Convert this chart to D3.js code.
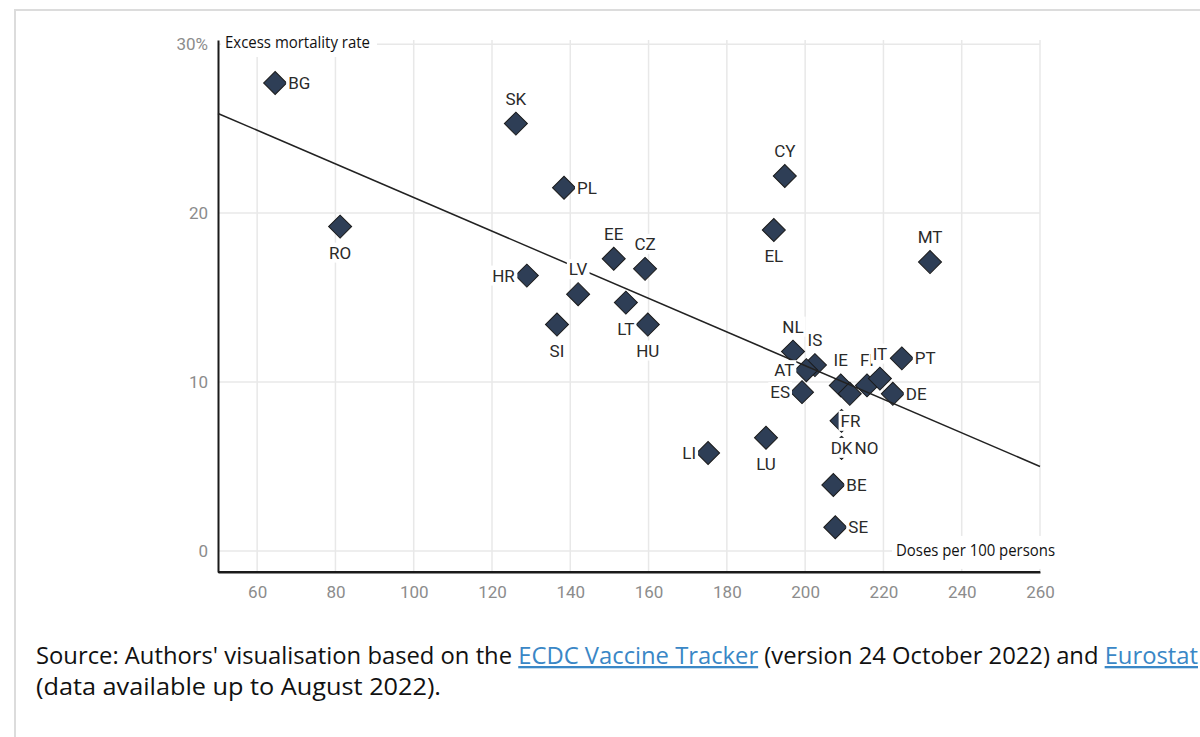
<!DOCTYPE html>
<html>
<head>
<meta charset="utf-8">
<script src="https://cdn.jsdelivr.net/npm/d3@7"></script>
<style>
  body { margin: 0; background: #fff; }
  svg { display: block; }
</style>
</head>
<body>
<svg width="1200" height="737"></svg>
<script>
// countries, doses per 100 persons, excess mortality rate (%)
var countries = ["BG", "SK", "PL", "CY", "RO", "EL", "MT", "EE", "CZ", "HR", "LV", "LT", "SI", "HU",
  "LI", "LU", "NL", "IS", "AT", "ES", "IE", "", "FI", "IT", "DE", "PT", "FR", "NO", "DK", "BE", "SE"];
var doses = [64.6, 126.1, 138.4, 194.8, 81.2, 192.0, 231.9, 151.1, 159.1, 128.9, 142.0, 154.2, 136.6, 159.8,
  175.2, 190.0, 196.9, 202.5, 200.3, 199.2, 209.1, 211.4, 215.8, 219.1, 222.4, 224.7, 209.3, 209.3, 209.3, 207.2, 207.7];
var excess = [27.7, 25.3, 21.5, 22.2, 19.2, 19.0, 17.1, 17.3, 16.7, 16.3, 15.2, 14.7, 13.4, 13.4,
  5.8, 6.7, 11.8, 11.0, 10.7, 9.4, 9.8, 9.3, 9.8, 10.2, 9.3, 11.4, 7.7, 6.1, 6.1, 3.9, 1.4];

// fitted trend line end points
var trendX = [50, 260];
var trendY = [25.9, 5.0];

var xTicks = [60, 80, 100, 120, 140, 160, 180, 200, 220, 240, 260];
var yTicks = [0, 10, 20, 30];

// where each label sits relative to its marker
var labelPos = {
  BG: "r", SK: "t", PL: "r", CY: "t", RO: "b", EL: "b", MT: "t", EE: "t", CZ: "t", HR: "l",
  LV: "t", LT: "b", SI: "b", HU: "b", LI: "l", LU: "b", NL: "t", IS: "t", AT: "l", ES: "l",
  IE: "t", FI: "t", IT: "t", DE: "r", PT: "r", FR: "fr", NO: "r", DK: "c", BE: "r", SE: "r"
};

var margin = { top: 40, right: 160, bottom: 165, left: 218 };
var width = 1200 - margin.left - margin.right;
var height = 737 - margin.top - margin.bottom;

var svg = d3.select("svg");

// outer frame
svg.append("rect")
  .attr("x", 15).attr("y", 10)
  .attr("width", 1300).attr("height", 800)
  .attr("fill", "none")
  .attr("stroke", "#dcdcdc")
  .attr("stroke-width", 2);

var g = svg.append("g")
  .attr("transform", "translate(" + margin.left + "," + margin.top + ")");

var x = d3.scaleLinear().domain([50, 260]).range([0, width]);
var y = d3.scaleLinear().domain([-1.25, 30.25]).range([height, 0]);

// grid
g.selectAll("line.vgrid")
  .data(xTicks)
  .enter().append("line")
  .attr("class", "vgrid")
  .attr("x1", function (d) { return x(d); })
  .attr("x2", function (d) { return x(d); })
  .attr("y1", 0).attr("y2", height)
  .attr("stroke", "#e8e8e8")
  .attr("stroke-width", 1.5);

g.selectAll("line.hgrid")
  .data(yTicks)
  .enter().append("line")
  .attr("class", "hgrid")
  .attr("x1", 0).attr("x2", width)
  .attr("y1", function (d) { return y(d); })
  .attr("y2", function (d) { return y(d); })
  .attr("stroke", "#e8e8e8")
  .attr("stroke-width", 1.5);

// axes
var xAxis = d3.axisBottom(x).tickValues(xTicks).tickSize(0).tickPadding(14);
var yAxis = d3.axisLeft(y).tickValues(yTicks).tickSize(0).tickPadding(10)
  .tickFormat(function (d) { return d === 30 ? "30%" : d; });

var ax = g.append("g")
  .attr("transform", "translate(0," + height + ")")
  .call(xAxis);
var ay = g.append("g").call(yAxis);

[ax, ay].forEach(function (a) {
  a.select(".domain").attr("stroke", "#1a1a1a").attr("stroke-width", 2);
  a.selectAll("text")
    .attr("fill", "#8c8c8c")
    .style("font-family", "Roboto, sans-serif")
    .style("font-size", "17px");
});

// axis titles with white backing
var yTitle = g.append("g");
yTitle.append("rect")
  .attr("x", 3).attr("y", -12).attr("width", 156).attr("height", 29)
  .attr("fill", "#fff");
yTitle.append("text")
  .attr("x", 7).attr("y", 8)
  .attr("textLength", 145)
  .attr("lengthAdjust", "spacingAndGlyphs")
  .attr("fill", "#111")
  .style("font-family", "'Open Sans', sans-serif")
  .style("font-size", "16px")
  .text("Excess mortality rate");

var xTitle = g.append("g");
xTitle.append("rect")
  .attr("x", x(260) - 148).attr("y", y(0) - 15).attr("width", 200).attr("height", 33)
  .attr("fill", "#fff");
xTitle.append("text")
  .attr("x", x(260) - 144).attr("y", y(0) + 5)
  .attr("textLength", 159)
  .attr("lengthAdjust", "spacingAndGlyphs")
  .attr("fill", "#111")
  .style("font-family", "'Open Sans', sans-serif")
  .style("font-size", "16px")
  .text("Doses per 100 persons");

// redraw bottom axis line over the title backing
g.append("line")
  .attr("x1", 0).attr("x2", width)
  .attr("y1", height).attr("y2", height)
  .attr("stroke", "#1a1a1a").attr("stroke-width", 2);

// points
var points = countries.map(function (c, i) {
  return { name: c, x: doses[i], y: excess[i] };
});

var diamond = d3.symbol().type(d3.symbolSquare).size(265);

g.selectAll("path.pt")
  .data(points)
  .enter().append("path")
  .attr("class", "pt")
  .attr("d", diamond)
  .attr("transform", function (d) {
    return "translate(" + x(d.x) + "," + y(d.y) + ") rotate(45)";
  })
  .attr("fill", "#2e3e56")
  .attr("stroke", "#1a1a1a")
  .attr("stroke-width", 1);

// trend line
g.append("line")
  .attr("x1", x(trendX[0])).attr("y1", y(trendY[0]))
  .attr("x2", x(trendX[1])).attr("y2", y(trendY[1]))
  .attr("stroke", "#222")
  .attr("stroke-width", 1.5);

// labels
var labels = g.selectAll("g.lab")
  .data(points.filter(function (d) { return d.name; }))
  .enter().append("g")
  .attr("class", "lab");

labels.each(function (d) {
  var el = d3.select(this);
  var px = x(d.x), py = y(d.y);
  var pos = labelPos[d.name] || "r";
  var anchor = "middle", tx = px, ty = py + 6;
  if (pos === "r") { anchor = "start"; tx = px + 13; }
  if (pos === "l") { anchor = "end"; tx = px - 12; }
  if (pos === "t") { ty = py - 19; }
  if (pos === "b") { ty = py + 32; }
  if (pos === "fr") { tx = px + 9; ty = py + 6; }
  var t = el.append("text")
    .attr("x", tx).attr("y", ty)
    .attr("text-anchor", anchor)
    .attr("fill", "#2a2a2a")
    .style("font-family", "Roboto, sans-serif")
    .style("font-size", "17px")
    .text(d.name);
  var bb = t.node().getBBox();
  el.insert("rect", "text")
    .attr("x", bb.x - 2).attr("y", bb.y)
    .attr("width", bb.width + 4).attr("height", bb.height)
    .attr("fill", "#fff");
});

// source note
var note = svg.append("g")
  .style("font-family", "'Open Sans', sans-serif")
  .style("font-size", "23px")
  .attr("fill", "#111");

var line1 = note.append("text")
  .attr("x", 36).attr("y", 664)
  .attr("textLength", 1162)
  .attr("lengthAdjust", "spacingAndGlyphs");
line1.append("tspan").text("Source: Authors' visualisation based on the ");
line1.append("tspan").attr("fill", "#3a87c6").style("text-decoration", "underline").text("ECDC Vaccine Tracker");
line1.append("tspan").text(" (version 24 October 2022) and ");
line1.append("tspan").attr("fill", "#3a87c6").style("text-decoration", "underline").text("Eurostat");

note.append("text")
  .attr("x", 36).attr("y", 695)
  .attr("textLength", 405)
  .attr("lengthAdjust", "spacingAndGlyphs")
  .text("(data available up to August 2022).");
</script>
</body>
</html>
